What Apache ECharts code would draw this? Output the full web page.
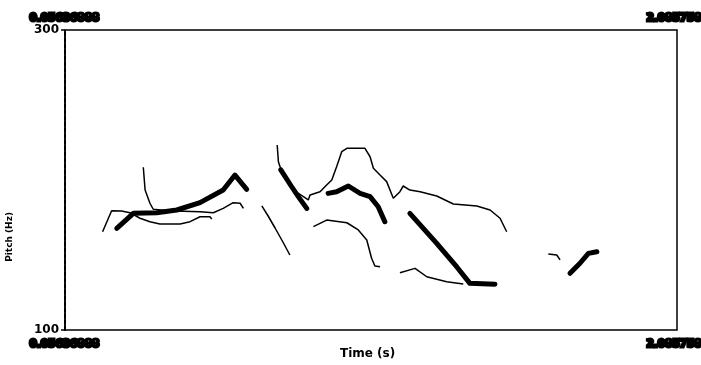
<!DOCTYPE html>
<html><head><meta charset="utf-8">
<script src="https://cdn.jsdelivr.net/npm/echarts@6/dist/echarts.min.js"></script>
<style>html,body{margin:0;padding:0;background:#fff}#c{width:701px;height:365px}</style>
</head><body><div id="c"></div>
<script>
// Time range and pitch range
const tMin = 0.05636888, tMax = 2.085758;
const fMin = 100, fMax = 300;
const yTicks = [100, 300];
// Pitch tracks: [time (s), F0 (Hz)]
const thinA = [[0.181,165.5],[0.211,179.5],[0.244,179.3],[0.272,178.2],[0.305,174.5],[0.338,172.2],[0.371,170.7],[0.438,170.7],[0.471,172.2],[0.504,175.5],[0.537,175.5],[0.543,174]];
const thinB = [[0.316,208.5],[0.322,193.3],[0.338,184.5],[0.349,180.5],[0.40,179.5],[0.45,179.2],[0.504,178.9],[0.548,178.2],[0.581,181.1],[0.614,184.9],[0.637,184.5],[0.648,181.1]];
const thickC = [[0.228,167.8],[0.283,177.8],[0.361,178.2],[0.427,180],[0.504,184.9],[0.581,193.3],[0.620,203.3],[0.659,193.8]];
const thinD = [[0.709,182.7],[0.730,176],[0.753,168],[0.778,159],[0.802,150]];
const thinE = [[0.760,223.3],[0.764,212.2],[0.775,205.5],[0.813,193.3],[0.847,188.9],[0.863,186.7],[0.869,190],[0.902,192.2],[0.924,196.7],[0.941,200],[0.957,208.9],[0.974,218.9],[0.991,221.1],[1.051,221.1],[1.068,215.5],[1.079,207.8],[1.101,203.3],[1.123,198.9],[1.145,187.8],[1.167,192.2],[1.178,196],[1.200,193.3],[1.234,192.2],[1.289,189.3],[1.344,184],[1.422,182.7],[1.466,180],[1.499,174.5],[1.521,165.5]];
const thickF = [[0.772,206.7],[0.808,195.5],[0.830,188.9],[0.858,181.1]];
const thickG = [[0.929,191.1],[0.957,192.2],[0.996,196],[1.035,191.1],[1.068,188.9],[1.095,182.2],[1.117,172.2]];
const thinH = [[0.880,168.9],[0.924,173.3],[0.991,171.5],[1.029,166.7],[1.057,160],[1.073,147.8],[1.084,142.7],[1.101,142.2]];
const thickI = [[1.200,177.8],[1.289,157.8],[1.355,142.2],[1.399,131.1],[1.482,130.5]];
const thinJ = [[1.167,138.2],[1.217,141.1],[1.256,135.5],[1.322,132.2],[1.377,130.7]];
const thinK = [[1.659,150.7],[1.687,150],[1.698,146.7]];
const thickL = [[1.731,137.8],[1.764,144.5],[1.792,151.1],[1.820,152.2]];

const thin = [thinA, thinB, thinD, thinE, thinH, thinJ, thinK];
const thick = [thickC, thickF, thickG, thickI, thickL];

const series = [];
thin.forEach(d => series.push({type:'line', data:d, showSymbol:false, silent:true,
  lineStyle:{color:'#000', width:1.5}, z:2}));
thick.forEach(d => series.push({type:'line', data:d, showSymbol:false, silent:true,
  lineStyle:{color:'#000', width:5, cap:'round', join:'round'}, z:3}));

const chart = echarts.init(document.getElementById('c'), null, {renderer:'canvas'});
const corner = (txt, pos) => Object.assign({type:'text', style:{text:txt, fill:'#000',
  stroke:'#000', lineWidth:3, font:'bold 10.5px "DejaVu Sans"'}}, pos);
chart.setOption({
  animation:false,
  backgroundColor:'#fff',
  grid:{left:65, right:24, top:30, bottom:35, show:true, borderColor:'#000', borderWidth:1.5},
  xAxis:{type:'value', min:tMin, max:tMax, axisLine:{show:false}, axisTick:{show:false},
    axisLabel:{show:false}, splitLine:{show:false}},
  yAxis:{type:'value', min:fMin, max:fMax, interval:fMax-fMin,
    axisLine:{show:true, lineStyle:{color:'#000', width:2, type:[4,2]}},
    axisTick:{show:true, length:4, lineStyle:{color:'#000', width:1.5}},
    axisLabel:{show:true, color:'#000', fontSize:12, fontWeight:'bold', margin:6,
      fontFamily:'"DejaVu Sans"', formatter:v => yTicks.includes(v) ? String(v) : ''},
    splitLine:{show:false}},
  graphic:[
    corner('0.05636888', {left:28, top:11}),
    corner('0.05636888', {left:28, top:337}),
    corner('2.085758', {left:645, top:11}),
    corner('2.085758', {left:645, top:337}),
    {type:'text', left:340, top:348, style:{text:'Time (s)', fill:'#000',
      font:'bold 12px "DejaVu Sans"'}},
    {type:'text', left:5, top:212, rotation:Math.PI/2, style:{text:'Pitch (Hz)', fill:'#000',
      font:'bold 9px "DejaVu Sans"'}}
  ],
  series: series
});
</script></body></html>
